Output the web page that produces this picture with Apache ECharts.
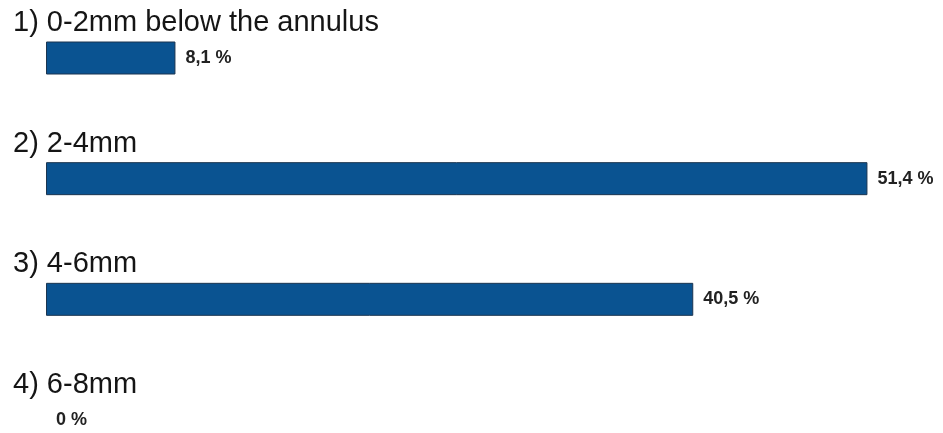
<!DOCTYPE html>
<html>
<head>
<meta charset="utf-8">
<script src="https://cdn.jsdelivr.net/npm/echarts@6/dist/echarts.min.js"></script>
<style>
html, body { margin: 0; padding: 0; background: #fff; }
#container { width: 943px; height: 433px; }
</style>
</head>
<body>
<div id="container"></div>
<script>
// categories and values (percent)
var categories = ['1) 0-2mm below the annulus', '2) 2-4mm', '3) 4-6mm', '4) 6-8mm'];
var values = [8.1, 51.4, 40.5, 0];

var barData = values.map(function (v) {
    // no outline for empty bar
    return { value: v, itemStyle: { borderWidth: v > 0 ? 1 : 0 } };
});

var dom = document.getElementById("container");
var myChart = echarts.init(dom);
var option = {
    animation: false,
    grid: {
        left: 46,
        right: 34,
        top: 58,
        bottom: 13,
        outerBoundsMode: 'none',
        containLabel: false
    },
    xAxis: {
        type: 'value',
        min: 0,
        max: 54,
        show: false
    },
    yAxis: {
        type: 'category',
        data: categories,
        inverse: true,
        boundaryGap: false,
        axisLine: { show: false },
        axisTick: { show: false },
        splitLine: { show: false },
        axisLabel: {
            interval: 0,
            margin: 33,
            align: 'left',
            verticalAlign: 'middle',
            lineHeight: 70,
            // second empty line pushes the name above the bar
            formatter: function (v) { return v + '\n '; },
            fontFamily: 'Liberation Sans',
            fontSize: 29,
            color: '#151515'
        }
    },
    series: [{
        type: 'bar',
        data: barData,
        barWidth: 33,
        itemStyle: {
            color: '#0a5391',
            borderColor: '#1b3550',
            borderWidth: 1
        },
        label: {
            show: true,
            position: 'right',
            distance: 10,
            fontFamily: 'Liberation Sans',
            fontWeight: 'bold',
            fontSize: 18,
            color: '#222',
            formatter: function (p) {
                return String(p.value).replace('.', ',') + ' %';
            }
        }
    }]
};
myChart.setOption(option, true);
</script>
</body>
</html>
